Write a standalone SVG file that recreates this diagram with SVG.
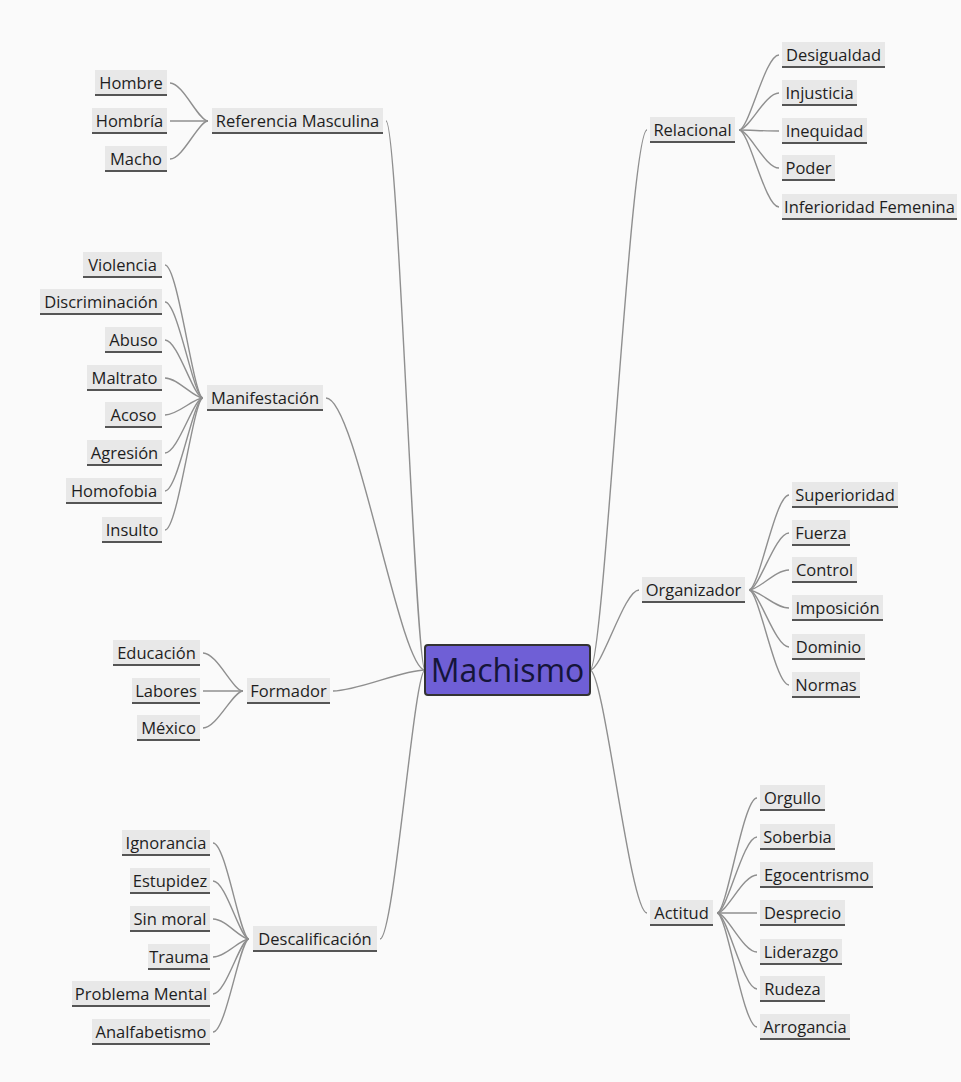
<svg xmlns="http://www.w3.org/2000/svg" width="961" height="1082" viewBox="0 0 961 1082">
<style>
.bg{fill:#e8e8e8}
.ul{stroke:#555;stroke-width:2}
.t{font-family:"Open Sans","Noto Sans",sans-serif;font-size:16.5px;fill:#1e1e1e;text-anchor:middle}
.c path{fill:none;stroke:#8f8f8f;stroke-width:1.4}
</style>
<rect width="961" height="1082" fill="#fafafa"/>
<g class="c" id="connectors">
<path d="M425,670 C415,670 398,121 386,121"/>
<path d="M425,670 C400,670 356,398 326,398"/>
<path d="M425,670 C402,670 358,691 333,691"/>
<path d="M425,670 C414,670 394,939 380,939"/>
<path d="M590,670 C604,670 630,130 647,130"/>
<path d="M590,670 C602,670 624,590 639,590"/>
<path d="M590,670 C604,670 630,913 647,913"/>
<path d="M208,121 C198.5,121 183,83 170,83"/>
<path d="M208,121 L170,121"/>
<path d="M208,121 C198.5,121 183,159 170,159"/>
<path d="M203,398 C193.5,398 178,265 165,265"/>
<path d="M203,398 C193.5,398 178,302 165,302"/>
<path d="M203,398 C193.5,398 178,340 165,340"/>
<path d="M203,398 C193.5,398 178,378 165,378"/>
<path d="M203,398 C193.5,398 178,415 165,415"/>
<path d="M203,398 C193.5,398 178,453 165,453"/>
<path d="M203,398 C193.5,398 178,491 165,491"/>
<path d="M203,398 C193.5,398 178,530 165,530"/>
<path d="M243,691 C233,691 217,653 203,653"/>
<path d="M243,691 L203,691"/>
<path d="M243,691 C233,691 217,728 203,728"/>
<path d="M249,939 C240,939 226,843 213,843"/>
<path d="M249,939 C240,939 226,881 213,881"/>
<path d="M249,939 C240,939 226,919 213,919"/>
<path d="M249,939 C240,939 226,957 213,957"/>
<path d="M249,939 C240,939 226,994 213,994"/>
<path d="M249,939 C240,939 226,1032 213,1032"/>
<path d="M739,130 C749,130 765,55 779,55"/>
<path d="M739,130 C749,130 765,93 779,93"/>
<path d="M739,130 C749,130 765,131 779,131"/>
<path d="M739,130 C749,130 765,168 779,168"/>
<path d="M739,130 C749,130 765,207 779,207"/>
<path d="M749,590 C759,590 775,495 789,495"/>
<path d="M749,590 C759,590 775,533 789,533"/>
<path d="M749,590 C759,590 775,570 789,570"/>
<path d="M749,590 C759,590 775,608 789,608"/>
<path d="M749,590 C759,590 775,647 789,647"/>
<path d="M749,590 C759,590 775,685 789,685"/>
<path d="M717,913 C727,913 743,798 757,798"/>
<path d="M717,913 C727,913 743,837 757,837"/>
<path d="M717,913 C727,913 743,875 757,875"/>
<path d="M717,913 C727,913 743,913 757,913"/>
<path d="M717,913 C727,913 743,952 757,952"/>
<path d="M717,913 C727,913 743,989 757,989"/>
<path d="M717,913 C727,913 743,1027 757,1027"/>
</g>
<g id="machismo">
<rect x="425" y="645" width="165" height="50" rx="3" fill="#6f5fd6" stroke="#333" stroke-width="2"/>
<text x="507.5" y="682" font-family="Open Sans,Noto Sans,sans-serif" font-size="32" fill="#15153a" text-anchor="middle">Machismo</text>
</g>
<g id="hombre"><rect class="bg" x="95" y="70" width="72" height="26"/><line class="ul" x1="95" y1="95" x2="167" y2="95"/><text class="t" x="131" y="89">Hombre</text></g>
<g id="hombria"><rect class="bg" x="92" y="108" width="75" height="26"/><line class="ul" x1="92" y1="133" x2="167" y2="133"/><text class="t" x="129.5" y="127">Hombría</text></g>
<g id="macho"><rect class="bg" x="105" y="146" width="62" height="26"/><line class="ul" x1="105" y1="171" x2="167" y2="171"/><text class="t" x="136" y="165">Macho</text></g>
<g id="referencia"><rect class="bg" x="212" y="108" width="171" height="26"/><line class="ul" x1="212" y1="133" x2="383" y2="133"/><text class="t" x="297.5" y="127">Referencia Masculina</text></g>
<g id="violencia"><rect class="bg" x="83" y="252" width="79" height="26"/><line class="ul" x1="83" y1="277" x2="162" y2="277"/><text class="t" x="122.5" y="271">Violencia</text></g>
<g id="discriminacion"><rect class="bg" x="40" y="289" width="122" height="26"/><line class="ul" x1="40" y1="314" x2="162" y2="314"/><text class="t" x="101" y="308">Discriminación</text></g>
<g id="abuso"><rect class="bg" x="105" y="327" width="57" height="26"/><line class="ul" x1="105" y1="352" x2="162" y2="352"/><text class="t" x="133.5" y="346">Abuso</text></g>
<g id="maltrato"><rect class="bg" x="87" y="365" width="75" height="26"/><line class="ul" x1="87" y1="390" x2="162" y2="390"/><text class="t" x="124.5" y="384">Maltrato</text></g>
<g id="acoso"><rect class="bg" x="105" y="402" width="57" height="26"/><line class="ul" x1="105" y1="427" x2="162" y2="427"/><text class="t" x="133.5" y="421">Acoso</text></g>
<g id="agresion"><rect class="bg" x="87" y="440" width="75" height="26"/><line class="ul" x1="87" y1="465" x2="162" y2="465"/><text class="t" x="124.5" y="459">Agresión</text></g>
<g id="homofobia"><rect class="bg" x="66" y="478" width="96" height="26"/><line class="ul" x1="66" y1="503" x2="162" y2="503"/><text class="t" x="114" y="497">Homofobia</text></g>
<g id="insulto"><rect class="bg" x="102" y="517" width="60" height="26"/><line class="ul" x1="102" y1="542" x2="162" y2="542"/><text class="t" x="132" y="536">Insulto</text></g>
<g id="manifestacion"><rect class="bg" x="207" y="385" width="116" height="26"/><line class="ul" x1="207" y1="410" x2="323" y2="410"/><text class="t" x="265" y="404">Manifestación</text></g>
<g id="educacion"><rect class="bg" x="113" y="640" width="87" height="26"/><line class="ul" x1="113" y1="665" x2="200" y2="665"/><text class="t" x="156.5" y="659">Educación</text></g>
<g id="labores"><rect class="bg" x="132" y="678" width="68" height="26"/><line class="ul" x1="132" y1="703" x2="200" y2="703"/><text class="t" x="166" y="697">Labores</text></g>
<g id="mexico"><rect class="bg" x="137" y="715" width="63" height="26"/><line class="ul" x1="137" y1="740" x2="200" y2="740"/><text class="t" x="168.5" y="734">México</text></g>
<g id="formador"><rect class="bg" x="247" y="678" width="83" height="26"/><line class="ul" x1="247" y1="703" x2="330" y2="703"/><text class="t" x="288.5" y="697">Formador</text></g>
<g id="ignorancia"><rect class="bg" x="122" y="830" width="88" height="26"/><line class="ul" x1="122" y1="855" x2="210" y2="855"/><text class="t" x="166" y="849">Ignorancia</text></g>
<g id="estupidez"><rect class="bg" x="130" y="868" width="80" height="26"/><line class="ul" x1="130" y1="893" x2="210" y2="893"/><text class="t" x="170" y="887">Estupidez</text></g>
<g id="sinmoral"><rect class="bg" x="130" y="906" width="80" height="26"/><line class="ul" x1="130" y1="931" x2="210" y2="931"/><text class="t" x="170" y="925">Sin moral</text></g>
<g id="trauma"><rect class="bg" x="148" y="944" width="62" height="26"/><line class="ul" x1="148" y1="969" x2="210" y2="969"/><text class="t" x="179" y="963">Trauma</text></g>
<g id="problemamental"><rect class="bg" x="72" y="981" width="138" height="26"/><line class="ul" x1="72" y1="1006" x2="210" y2="1006"/><text class="t" x="141" y="1000">Problema Mental</text></g>
<g id="analfabetismo"><rect class="bg" x="92" y="1019" width="118" height="26"/><line class="ul" x1="92" y1="1044" x2="210" y2="1044"/><text class="t" x="151" y="1038">Analfabetismo</text></g>
<g id="descalificacion"><rect class="bg" x="253" y="926" width="124" height="26"/><line class="ul" x1="253" y1="951" x2="377" y2="951"/><text class="t" x="315" y="945">Descalificación</text></g>
<g id="relacional"><rect class="bg" x="650" y="117" width="85" height="26"/><line class="ul" x1="650" y1="142" x2="735" y2="142"/><text class="t" x="692.5" y="136">Relacional</text></g>
<g id="desigualdad"><rect class="bg" x="782" y="42" width="103" height="26"/><line class="ul" x1="782" y1="67" x2="885" y2="67"/><text class="t" x="833.5" y="61">Desigualdad</text></g>
<g id="injusticia"><rect class="bg" x="782" y="80" width="75" height="26"/><line class="ul" x1="782" y1="105" x2="857" y2="105"/><text class="t" x="819.5" y="99">Injusticia</text></g>
<g id="inequidad"><rect class="bg" x="782" y="118" width="85" height="26"/><line class="ul" x1="782" y1="143" x2="867" y2="143"/><text class="t" x="824.5" y="137">Inequidad</text></g>
<g id="poder"><rect class="bg" x="782" y="155" width="53" height="26"/><line class="ul" x1="782" y1="180" x2="835" y2="180"/><text class="t" x="808.5" y="174">Poder</text></g>
<g id="inferioridad"><rect class="bg" x="782" y="194" width="175" height="26"/><line class="ul" x1="782" y1="219" x2="957" y2="219"/><text class="t" x="869.5" y="213">Inferioridad Femenina</text></g>
<g id="organizador"><rect class="bg" x="642" y="577" width="103" height="26"/><line class="ul" x1="642" y1="602" x2="745" y2="602"/><text class="t" x="693.5" y="596">Organizador</text></g>
<g id="superioridad"><rect class="bg" x="792" y="482" width="106" height="26"/><line class="ul" x1="792" y1="507" x2="898" y2="507"/><text class="t" x="845" y="501">Superioridad</text></g>
<g id="fuerza"><rect class="bg" x="792" y="520" width="58" height="26"/><line class="ul" x1="792" y1="545" x2="850" y2="545"/><text class="t" x="821" y="539">Fuerza</text></g>
<g id="control"><rect class="bg" x="792" y="557" width="65" height="26"/><line class="ul" x1="792" y1="582" x2="857" y2="582"/><text class="t" x="824.5" y="576">Control</text></g>
<g id="imposicion"><rect class="bg" x="792" y="595" width="91" height="26"/><line class="ul" x1="792" y1="620" x2="883" y2="620"/><text class="t" x="837.5" y="614">Imposición</text></g>
<g id="dominio"><rect class="bg" x="792" y="634" width="73" height="26"/><line class="ul" x1="792" y1="659" x2="865" y2="659"/><text class="t" x="828.5" y="653">Dominio</text></g>
<g id="normas"><rect class="bg" x="792" y="672" width="68" height="26"/><line class="ul" x1="792" y1="697" x2="860" y2="697"/><text class="t" x="826" y="691">Normas</text></g>
<g id="actitud"><rect class="bg" x="650" y="900" width="63" height="26"/><line class="ul" x1="650" y1="925" x2="713" y2="925"/><text class="t" x="681.5" y="919">Actitud</text></g>
<g id="orgullo"><rect class="bg" x="760" y="785" width="65" height="26"/><line class="ul" x1="760" y1="810" x2="825" y2="810"/><text class="t" x="792.5" y="804">Orgullo</text></g>
<g id="soberbia"><rect class="bg" x="760" y="824" width="75" height="26"/><line class="ul" x1="760" y1="849" x2="835" y2="849"/><text class="t" x="797.5" y="843">Soberbia</text></g>
<g id="egocentrismo"><rect class="bg" x="760" y="862" width="113" height="26"/><line class="ul" x1="760" y1="887" x2="873" y2="887"/><text class="t" x="816.5" y="881">Egocentrismo</text></g>
<g id="desprecio"><rect class="bg" x="760" y="900" width="85" height="26"/><line class="ul" x1="760" y1="925" x2="845" y2="925"/><text class="t" x="802.5" y="919">Desprecio</text></g>
<g id="liderazgo"><rect class="bg" x="760" y="939" width="82" height="26"/><line class="ul" x1="760" y1="964" x2="842" y2="964"/><text class="t" x="801" y="958">Liderazgo</text></g>
<g id="rudeza"><rect class="bg" x="760" y="976" width="65" height="26"/><line class="ul" x1="760" y1="1001" x2="825" y2="1001"/><text class="t" x="792.5" y="995">Rudeza</text></g>
<g id="arrogancia"><rect class="bg" x="760" y="1014" width="90" height="26"/><line class="ul" x1="760" y1="1039" x2="850" y2="1039"/><text class="t" x="805" y="1033">Arrogancia</text></g>
</svg>
